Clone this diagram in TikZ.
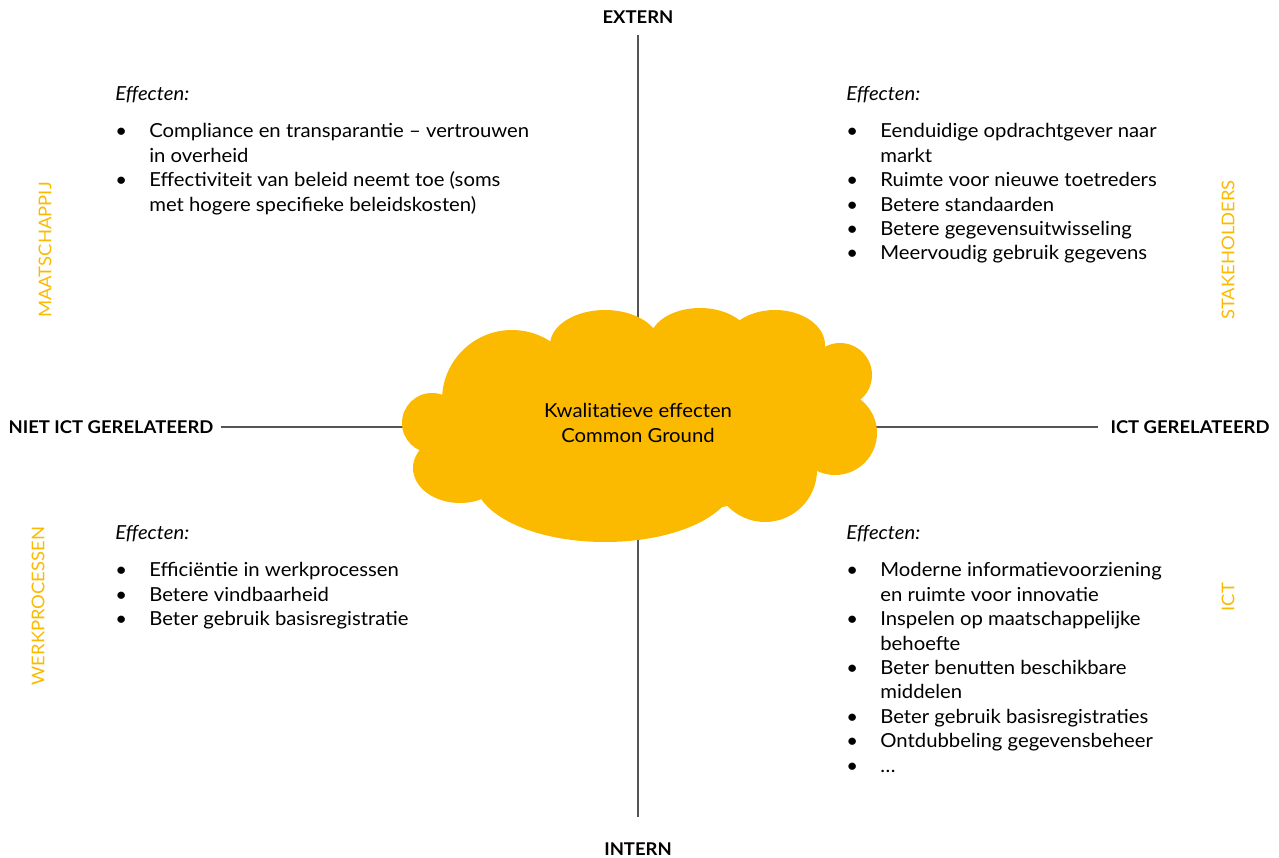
\documentclass[tikz,border=0pt]{standalone}
\usepackage{fontspec}
\setmainfont{Lato}[FakeStretch=1.05]
\usetikzlibrary{positioning}

\definecolor{cgorange}{RGB}{251,186,0}
\definecolor{axisgray}{RGB}{85,85,85}

\newcommand{\effectlist}[1]{%
  \begin{tabular}{@{}p{0.68cm}@{}l@{}}
    \multicolumn{2}{@{}l@{}}{\textit{Effecten:}}\\[0.26cm]
    #1
  \end{tabular}}

\begin{document}
\begin{tikzpicture}[x=0.02cm, y=-0.02cm,
    axislabel/.style={font=\bfseries\fontsize{10}{12}\selectfont, inner sep=0pt},
    sidelabel/.style={font=\fontsize{10}{12}\selectfont, text=cgorange, rotate=90, inner sep=0pt},
    effectblock/.style={anchor=north west, inner sep=0pt, font=\fontsize{11}{13.9}\selectfont},
    puff/.style={fill=cgorange, draw=none},
    axis/.style={draw=axisgray, line width=0.7pt}]
    \useasboundingbox (0,0) rectangle (1279,858);

    % Axis labels
    \node[axislabel] (extern) at (638,17) {EXTERN};
    \node[axislabel] (intern) at (638,849) {INTERN};
    \node[axislabel] (nietict) at (111,427) {NIET ICT GERELATEERD};
    \node[axislabel] (ict) at (1190,427) {ICT GERELATEERD};

    % Axes
    \draw[axis, shorten <=0.22cm, shorten >=0.5cm] (extern) -- (intern);
    \draw[axis, shorten <=0.14cm, shorten >=0.24cm] (nietict) -- (ict);

    % Cloud
    \fill[puff] (640,425) ellipse [x radius=200, y radius=90];
    \fill[puff] (432,423) circle [radius=30];
    \fill[puff] (512,400) circle [radius=70];
    \fill[puff] (605,345) ellipse [x radius=55, y radius=35];
    \fill[puff] (700,340) ellipse [x radius=50, y radius=32];
    \fill[puff] (775,345) ellipse [x radius=50, y radius=35];
    \fill[puff] (800,388) circle [radius=32];
    \fill[puff] (840,375) circle [radius=32];
    \fill[puff] (835,433) circle [radius=42];
    \fill[puff] (765,470) circle [radius=52];
    \fill[puff] (605,480) ellipse [x radius=130, y radius=62];
    \fill[puff] (460,468) ellipse [x radius=47, y radius=35];
    \node[align=center, font=\fontsize{11}{14.2}\selectfont] (cgcloud) at (638,423)
        {Kwalitatieve effecten\\Common Ground};

    % Side labels
    \node[sidelabel] (maatschappij) at (45,250) {MAATSCHAPPIJ};
    \node[sidelabel] (werkprocessen) at (38,606) {WERKPROCESSEN};
    \node[sidelabel] (stakeholders) at (1228,250) {STAKEHOLDERS};
    \node[sidelabel] (ictside) at (1228,597) {ICT};

    % Quadrant blocks
    \node[effectblock] (extmaat) at (115,83) {\effectlist{
        \textbullet & Compliance en transparantie -- vertrouwen\\
                    & in overheid\\
        \textbullet & Effectiviteit van beleid neemt toe (soms\\
                    & met hogere specifieke beleidskosten)\\}};
    \node[effectblock] (extstake) at (846,83) {\effectlist{
        \textbullet & Eenduidige opdrachtgever naar\\
                    & markt\\
        \textbullet & Ruimte voor nieuwe toetreders\\
        \textbullet & Betere standaarden\\
        \textbullet & Betere gegevensuitwisseling\\
        \textbullet & Meervoudig gebruik gegevens\\}};
    \node[effectblock] (intwerk) at (115,522) {\effectlist{
        \textbullet & Efficiëntie in werkprocessen\\
        \textbullet & Betere vindbaarheid\\
        \textbullet & Beter gebruik basisregistratie\\}};
    \node[effectblock] (intict) at (846,522) {\effectlist{
        \textbullet & Moderne informatievoorziening\\
                    & en ruimte voor innovatie\\
        \textbullet & Inspelen op maatschappelijke\\
                    & behoefte\\
        \textbullet & Beter benutten beschikbare\\
                    & middelen\\
        \textbullet & Beter gebruik basisregistraties\\
        \textbullet & Ontdubbeling gegevensbeheer\\
        \textbullet & \dots\\}};
\end{tikzpicture}
\end{document}
